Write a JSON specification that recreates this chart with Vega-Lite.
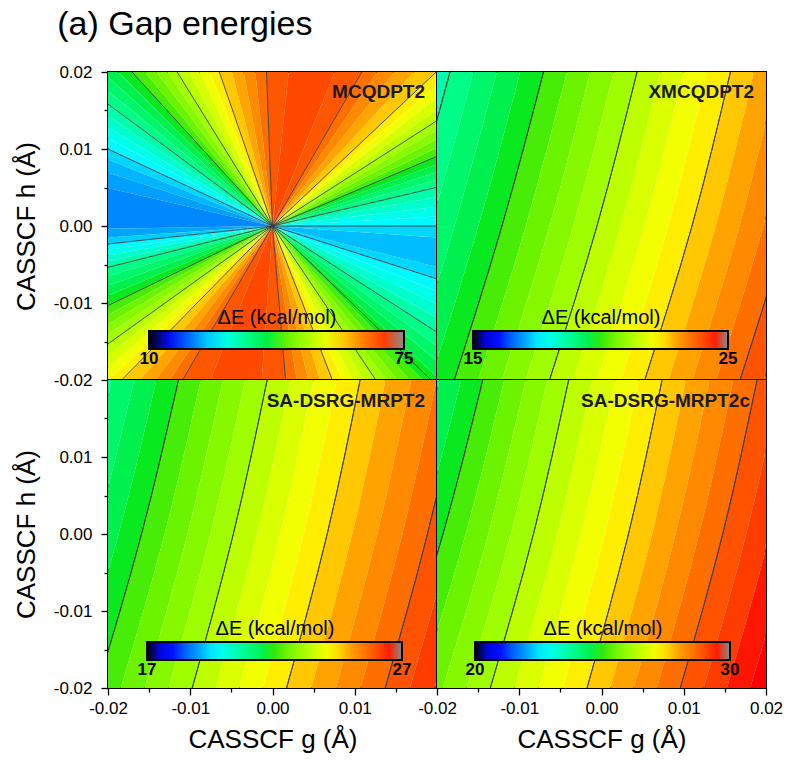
{
"$schema": "https://vega.github.io/schema/vega-lite/v6.json",
"padding": {"left": 12, "top": 8, "right": 5, "bottom": 5},
"title": {"text": "(a) Gap energies", "anchor": "start", "fontSize": 34, "fontWeight": "normal", "color": "black", "font": "Liberation Sans", "dx": 45, "offset": 20},
"datasets": {
"w1": [
{"a0":0,"a1":3.325,"e":27.27},{"a0":3.325,"a1":6.65,"e":29.3},{"a0":6.65,"a1":9.975,"e":31.33},{"a0":9.975,"a1":13.3,"e":33.36},
{"a0":13.3,"a1":15.725,"e":35.39},{"a0":15.725,"a1":18.15,"e":37.42},{"a0":18.15,"a1":20.575,"e":39.45},{"a0":20.575,"a1":23,"e":41.48},
{"a0":23,"a1":25.425,"e":43.52},{"a0":25.425,"a1":27.85,"e":45.55},{"a0":27.85,"a1":30.275,"e":47.58},{"a0":30.275,"a1":32.7,"e":49.61},
{"a0":32.7,"a1":35.35,"e":51.64},{"a0":35.35,"a1":38,"e":53.67},{"a0":38,"a1":40.65,"e":55.7},{"a0":40.65,"a1":43.3,"e":57.73},
{"a0":43.3,"a1":47.475,"e":59.77},{"a0":47.475,"a1":51.65,"e":61.8},{"a0":51.65,"a1":55.825,"e":63.83},{"a0":55.825,"a1":60,"e":65.86},
{"a0":60,"a1":68,"e":67.6},{"a0":68,"a1":84,"e":68.9},{"a0":84,"a1":92.2,"e":67.6},
{"a0":92.2,"a1":96.4,"e":65.86},{"a0":96.4,"a1":100.6,"e":63.83},{"a0":100.6,"a1":104.8,"e":61.8},{"a0":104.8,"a1":109,"e":59.77},
{"a0":109,"a1":112.175,"e":57.73},{"a0":112.175,"a1":115.35,"e":55.7},{"a0":115.35,"a1":118.525,"e":53.67},{"a0":118.525,"a1":121.7,"e":51.64},
{"a0":121.7,"a1":124.35,"e":49.61},{"a0":124.35,"a1":127,"e":47.58},{"a0":127,"a1":129.65,"e":45.55},{"a0":129.65,"a1":132.3,"e":43.52},
{"a0":132.3,"a1":135.075,"e":41.48},{"a0":135.075,"a1":137.85,"e":39.45},{"a0":137.85,"a1":140.625,"e":37.42},{"a0":140.625,"a1":143.4,"e":35.39},
{"a0":143.4,"a1":146.25,"e":33.36},{"a0":146.25,"a1":149.1,"e":31.33},{"a0":149.1,"a1":151.95,"e":29.3},{"a0":151.95,"a1":154.8,"e":27.27},
{"a0":154.8,"a1":158,"e":25.5},{"a0":158,"a1":162,"e":24},{"a0":162,"a1":167,"e":23},{"a0":167,"a1":181,"e":22},{"a0":181,"a1":184,"e":23.2},{"a0":184,"a1":186.3,"e":25},
{"a0":186.3,"a1":188.225,"e":27.27},{"a0":188.225,"a1":190.15,"e":29.3},{"a0":190.15,"a1":192.075,"e":31.33},{"a0":192.075,"a1":194,"e":33.36},
{"a0":194,"a1":197,"e":35.39},{"a0":197,"a1":200,"e":37.42},{"a0":200,"a1":203,"e":39.45},{"a0":203,"a1":206,"e":41.48},
{"a0":206,"a1":208.425,"e":43.52},{"a0":208.425,"a1":210.85,"e":45.55},{"a0":210.85,"a1":213.275,"e":47.58},{"a0":213.275,"a1":215.7,"e":49.61},
{"a0":215.7,"a1":218.225,"e":51.64},{"a0":218.225,"a1":220.75,"e":53.67},{"a0":220.75,"a1":223.275,"e":55.7},{"a0":223.275,"a1":225.8,"e":57.73},
{"a0":225.8,"a1":229.275,"e":59.77},{"a0":229.275,"a1":232.75,"e":61.8},{"a0":232.75,"a1":236.225,"e":63.83},{"a0":236.225,"a1":239.7,"e":65.86},
{"a0":239.7,"a1":248,"e":67.6},{"a0":248,"a1":266,"e":68.9},{"a0":266,"a1":274.8,"e":67.6},
{"a0":274.8,"a1":278.925,"e":65.86},{"a0":278.925,"a1":283.05,"e":63.83},{"a0":283.05,"a1":287.175,"e":61.8},{"a0":287.175,"a1":291.3,"e":59.77},
{"a0":291.3,"a1":294.425,"e":57.73},{"a0":294.425,"a1":297.55,"e":55.7},{"a0":297.55,"a1":300.675,"e":53.67},{"a0":300.675,"a1":303.8,"e":51.64},
{"a0":303.8,"a1":306.425,"e":49.61},{"a0":306.425,"a1":309.05,"e":47.58},{"a0":309.05,"a1":311.675,"e":45.55},{"a0":311.675,"a1":314.3,"e":43.52},
{"a0":314.3,"a1":317.5,"e":41.48},{"a0":317.5,"a1":320.7,"e":39.45},{"a0":320.7,"a1":323.9,"e":37.42},{"a0":323.9,"a1":327.1,"e":35.39},
{"a0":327.1,"a1":330.85,"e":33.36},{"a0":330.85,"a1":334.6,"e":31.33},{"a0":334.6,"a1":338.35,"e":29.3},{"a0":338.35,"a1":342.1,"e":27.27},
{"a0":342.1,"a1":346,"e":25.5},{"a0":346,"a1":356,"e":24.3},{"a0":356,"a1":360,"e":25.5}
],
"r1": [
{"g":-0.01707,"h":0.02},{"g":-0.01159,"h":0.02},{"g":-0.00646,"h":0.02},{"g":-0.00073,"h":0.02},{"g":0.01085,"h":0.02},{"g":0.0199,"h":0.02},
{"g":0.02,"h":0.01368},{"g":0.02,"h":0.00905},{"g":0.02,"h":0.00503},{"g":0.02,"h":0},{"g":0.02,"h":-0.00688},{"g":0.02,"h":-0.0138},
{"g":-0.01833,"h":-0.02},{"g":-0.01094,"h":-0.02},{"g":0.00159,"h":-0.02},{"g":0.00728,"h":-0.02},{"g":0.01256,"h":-0.02},{"g":0.01927,"h":-0.02},
{"g":-0.02,"h":0.01584},{"g":-0.02,"h":0.01},{"g":-0.02,"h":-0.00234},{"g":-0.02,"h":-0.00536},{"g":-0.02,"h":-0.01035},{"g":-0.02,"h":-0.01532}
],
"b2": [
{"k":0,"h":0.02,"g":-0.0241,"g2":-0.02126,"e":18.28},{"k":0,"h":0,"g":-0.02942,"g2":-0.02653,"e":18.28},{"k":0,"h":-0.02,"g":-0.03527,"g2":-0.03238,"e":18.28},
{"k":1,"h":0.02,"g":-0.02126,"g2":-0.01842,"e":18.59},{"k":1,"h":0,"g":-0.02653,"g2":-0.02365,"e":18.59},{"k":1,"h":-0.02,"g":-0.03238,"g2":-0.02948,"e":18.59},
{"k":2,"c":1,"h":0.02,"g":-0.01842,"g2":-0.01558,"e":18.91},{"k":2,"c":1,"h":0,"g":-0.02365,"g2":-0.02076,"e":18.91},{"k":2,"c":1,"h":-0.02,"g":-0.02948,"g2":-0.02659,"e":18.91},
{"k":3,"h":0.02,"g":-0.01558,"g2":-0.01273,"e":19.22},{"k":3,"h":0,"g":-0.02076,"g2":-0.01787,"e":19.22},{"k":3,"h":-0.02,"g":-0.02659,"g2":-0.02369,"e":19.22},
{"k":4,"h":0.02,"g":-0.01273,"g2":-0.00989,"e":19.53},{"k":4,"h":0,"g":-0.01787,"g2":-0.01498,"e":19.53},{"k":4,"h":-0.02,"g":-0.02369,"g2":-0.0208,"e":19.53},
{"k":5,"h":0.02,"g":-0.00989,"g2":-0.00705,"e":19.84},{"k":5,"h":0,"g":-0.01498,"g2":-0.0121,"e":19.84},{"k":5,"h":-0.02,"g":-0.0208,"g2":-0.0179,"e":19.84},
{"k":6,"c":1,"h":0.02,"g":-0.00705,"g2":-0.00421,"e":20.16},{"k":6,"c":1,"h":0,"g":-0.0121,"g2":-0.00921,"e":20.16},{"k":6,"c":1,"h":-0.02,"g":-0.0179,"g2":-0.01501,"e":20.16},
{"k":7,"h":0.02,"g":-0.00421,"g2":-0.00137,"e":20.47},{"k":7,"h":0,"g":-0.00921,"g2":-0.00632,"e":20.47},{"k":7,"h":-0.02,"g":-0.01501,"g2":-0.01211,"e":20.47},
{"k":8,"h":0.02,"g":-0.00137,"g2":0.00148,"e":20.78},{"k":8,"h":0,"g":-0.00632,"g2":-0.00343,"e":20.78},{"k":8,"h":-0.02,"g":-0.01211,"g2":-0.00922,"e":20.78},
{"k":9,"h":0.02,"g":0.00148,"g2":0.00432,"e":21.09},{"k":9,"h":0,"g":-0.00343,"g2":-0.00055,"e":21.09},{"k":9,"h":-0.02,"g":-0.00922,"g2":-0.00632,"e":21.09},
{"k":10,"c":1,"h":0.02,"g":0.00432,"g2":0.00716,"e":21.41},{"k":10,"c":1,"h":0,"g":-0.00055,"g2":0.00234,"e":21.41},{"k":10,"c":1,"h":-0.02,"g":-0.00632,"g2":-0.00343,"e":21.41},
{"k":11,"h":0.02,"g":0.00716,"g2":0.01,"e":21.72},{"k":11,"h":0,"g":0.00234,"g2":0.00523,"e":21.72},{"k":11,"h":-0.02,"g":-0.00343,"g2":-0.00053,"e":21.72},
{"k":12,"h":0.02,"g":0.01,"g2":0.01284,"e":22.03},{"k":12,"h":0,"g":0.00523,"g2":0.00812,"e":22.03},{"k":12,"h":-0.02,"g":-0.00053,"g2":0.00236,"e":22.03},
{"k":13,"h":0.02,"g":0.01284,"g2":0.01568,"e":22.34},{"k":13,"h":0,"g":0.00812,"g2":0.011,"e":22.34},{"k":13,"h":-0.02,"g":0.00236,"g2":0.00526,"e":22.34},
{"k":14,"c":1,"h":0.02,"g":0.01568,"g2":0.01853,"e":22.66},{"k":14,"c":1,"h":0,"g":0.011,"g2":0.01389,"e":22.66},{"k":14,"c":1,"h":-0.02,"g":0.00526,"g2":0.00815,"e":22.66},
{"k":15,"h":0.02,"g":0.01853,"g2":0.02137,"e":22.97},{"k":15,"h":0,"g":0.01389,"g2":0.01678,"e":22.97},{"k":15,"h":-0.02,"g":0.00815,"g2":0.01105,"e":22.97},
{"k":16,"h":0.02,"g":0.02137,"g2":0.02421,"e":23.28},{"k":16,"h":0,"g":0.01678,"g2":0.01967,"e":23.28},{"k":16,"h":-0.02,"g":0.01105,"g2":0.01394,"e":23.28},
{"k":17,"h":0.02,"g":0.02421,"g2":0.02705,"e":23.59},{"k":17,"h":0,"g":0.01967,"g2":0.02255,"e":23.59},{"k":17,"h":-0.02,"g":0.01394,"g2":0.01684,"e":23.59},
{"k":18,"c":1,"h":0.02,"g":0.02705,"g2":0.02989,"e":23.91},{"k":18,"c":1,"h":0,"g":0.02255,"g2":0.02544,"e":23.91},{"k":18,"c":1,"h":-0.02,"g":0.01684,"g2":0.01973,"e":23.91},
{"k":19,"h":0.02,"g":0.02989,"g2":0.03274,"e":24.22},{"k":19,"h":0,"g":0.02544,"g2":0.02833,"e":24.22},{"k":19,"h":-0.02,"g":0.01973,"g2":0.02263,"e":24.22}
],
"b3": [
{"k":0,"h":0.02,"g":-0.02221,"g2":-0.01951,"e":20.91},{"k":0,"h":0,"g":-0.02707,"g2":-0.02428,"e":20.91},{"k":0,"h":-0.02,"g":-0.03293,"g2":-0.03003,"e":20.91},
{"k":1,"h":0.02,"g":-0.01951,"g2":-0.01682,"e":21.22},{"k":1,"h":0,"g":-0.02428,"g2":-0.02149,"e":21.22},{"k":1,"h":-0.02,"g":-0.03003,"g2":-0.02713,"e":21.22},
{"k":2,"h":0.02,"g":-0.01682,"g2":-0.01412,"e":21.53},{"k":2,"h":0,"g":-0.02149,"g2":-0.01871,"e":21.53},{"k":2,"h":-0.02,"g":-0.02713,"g2":-0.02424,"e":21.53},
{"k":3,"h":0.02,"g":-0.01412,"g2":-0.01143,"e":21.84},{"k":3,"h":0,"g":-0.01871,"g2":-0.01592,"e":21.84},{"k":3,"h":-0.02,"g":-0.02424,"g2":-0.02134,"e":21.84},
{"k":4,"c":1,"h":0.02,"g":-0.01143,"g2":-0.00873,"e":22.16},{"k":4,"c":1,"h":0,"g":-0.01592,"g2":-0.01312,"e":22.16},{"k":4,"c":1,"h":-0.02,"g":-0.02134,"g2":-0.01845,"e":22.16},
{"k":5,"h":0.02,"g":-0.00873,"g2":-0.00604,"e":22.47},{"k":5,"h":0,"g":-0.01312,"g2":-0.01034,"e":22.47},{"k":5,"h":-0.02,"g":-0.01845,"g2":-0.01555,"e":22.47},
{"k":6,"h":0.02,"g":-0.00604,"g2":-0.00334,"e":22.78},{"k":6,"h":0,"g":-0.01034,"g2":-0.00755,"e":22.78},{"k":6,"h":-0.02,"g":-0.01555,"g2":-0.01265,"e":22.78},
{"k":7,"h":0.02,"g":-0.00334,"g2":-0.00065,"e":23.09},{"k":7,"h":0,"g":-0.00755,"g2":-0.00476,"e":23.09},{"k":7,"h":-0.02,"g":-0.01265,"g2":-0.00976,"e":23.09},
{"k":8,"c":1,"h":0.02,"g":-0.00065,"g2":0.00218,"e":23.41},{"k":8,"c":1,"h":0,"g":-0.00476,"g2":-0.0019,"e":23.41},{"k":8,"c":1,"h":-0.02,"g":-0.00976,"g2":-0.00689,"e":23.41},
{"k":9,"h":0.02,"g":0.00218,"g2":0.005,"e":23.72},{"k":9,"h":0,"g":-0.0019,"g2":0.00095,"e":23.72},{"k":9,"h":-0.02,"g":-0.00689,"g2":-0.00402,"e":23.72},
{"k":10,"h":0.02,"g":0.005,"g2":0.00782,"e":24.03},{"k":10,"h":0,"g":0.00095,"g2":0.00379,"e":24.03},{"k":10,"h":-0.02,"g":-0.00402,"g2":-0.00116,"e":24.03},
{"k":11,"h":0.02,"g":0.00782,"g2":0.01065,"e":24.34},{"k":11,"h":0,"g":0.00379,"g2":0.00665,"e":24.34},{"k":11,"h":-0.02,"g":-0.00116,"g2":0.00171,"e":24.34},
{"k":12,"c":1,"h":0.02,"g":0.01065,"g2":0.01374,"e":24.66},{"k":12,"c":1,"h":0,"g":0.00665,"g2":0.0097,"e":24.66},{"k":12,"c":1,"h":-0.02,"g":0.00171,"g2":0.00471,"e":24.66},
{"k":13,"h":0.02,"g":0.01374,"g2":0.01685,"e":24.97},{"k":13,"h":0,"g":0.0097,"g2":0.01274,"e":24.97},{"k":13,"h":-0.02,"g":0.00471,"g2":0.0077,"e":24.97},
{"k":14,"h":0.02,"g":0.01685,"g2":0.01995,"e":25.28},{"k":14,"h":0,"g":0.01274,"g2":0.01579,"e":25.28},{"k":14,"h":-0.02,"g":0.0077,"g2":0.0107,"e":25.28},
{"k":15,"h":0.02,"g":0.01995,"g2":0.02305,"e":25.59},{"k":15,"h":0,"g":0.01579,"g2":0.01884,"e":25.59},{"k":15,"h":-0.02,"g":0.0107,"g2":0.0137,"e":25.59},
{"k":16,"c":1,"h":0.02,"g":0.02305,"g2":0.02615,"e":25.91},{"k":16,"c":1,"h":0,"g":0.01884,"g2":0.02189,"e":25.91},{"k":16,"c":1,"h":-0.02,"g":0.0137,"g2":0.0167,"e":25.91},
{"k":17,"h":0.02,"g":0.02615,"g2":0.02926,"e":26.22},{"k":17,"h":0,"g":0.02189,"g2":0.02494,"e":26.22},{"k":17,"h":-0.02,"g":0.0167,"g2":0.0197,"e":26.22},
{"k":18,"h":0.02,"g":0.02926,"g2":0.03235,"e":26.53},{"k":18,"h":0,"g":0.02494,"g2":0.02799,"e":26.53},{"k":18,"h":-0.02,"g":0.0197,"g2":0.02268,"e":26.53},
{"k":19,"h":0.02,"g":0.03235,"g2":0.03545,"e":26.6},{"k":19,"h":0,"g":0.02799,"g2":0.03104,"e":26.6},{"k":19,"h":-0.02,"g":0.02268,"g2":0.02568,"e":26.6}
],
"b4": [
{"k":0,"h":0.02,"g":-0.0249,"g2":-0.02229,"e":23.91},{"k":0,"h":0,"g":-0.03027,"g2":-0.02753,"e":23.91},{"k":0,"h":-0.02,"g":-0.03662,"g2":-0.03373,"e":23.91},
{"k":1,"h":0.02,"g":-0.02229,"g2":-0.01967,"e":24.22},{"k":1,"h":0,"g":-0.02753,"g2":-0.02477,"e":24.22},{"k":1,"h":-0.02,"g":-0.03373,"g2":-0.03085,"e":24.22},
{"k":2,"h":0.02,"g":-0.01967,"g2":-0.01706,"e":24.53},{"k":2,"h":0,"g":-0.02477,"g2":-0.02202,"e":24.53},{"k":2,"h":-0.02,"g":-0.03085,"g2":-0.02796,"e":24.53},
{"k":3,"h":0.02,"g":-0.01706,"g2":-0.01444,"e":24.84},{"k":3,"h":0,"g":-0.02202,"g2":-0.01927,"e":24.84},{"k":3,"h":-0.02,"g":-0.02796,"g2":-0.02507,"e":24.84},
{"k":4,"c":1,"h":0.02,"g":-0.01444,"g2":-0.01183,"e":25.16},{"k":4,"c":1,"h":0,"g":-0.01927,"g2":-0.01652,"e":25.16},{"k":4,"c":1,"h":-0.02,"g":-0.02507,"g2":-0.02218,"e":25.16},
{"k":5,"h":0.02,"g":-0.01183,"g2":-0.00922,"e":25.47},{"k":5,"h":0,"g":-0.01652,"g2":-0.01377,"e":25.47},{"k":5,"h":-0.02,"g":-0.02218,"g2":-0.0193,"e":25.47},
{"k":6,"h":0.02,"g":-0.00922,"g2":-0.0066,"e":25.78},{"k":6,"h":0,"g":-0.01377,"g2":-0.01102,"e":25.78},{"k":6,"h":-0.02,"g":-0.0193,"g2":-0.01641,"e":25.78},
{"k":7,"h":0.02,"g":-0.0066,"g2":-0.00399,"e":26.09},{"k":7,"h":0,"g":-0.01102,"g2":-0.00827,"e":26.09},{"k":7,"h":-0.02,"g":-0.01641,"g2":-0.01352,"e":26.09},
{"k":8,"c":1,"h":0.02,"g":-0.00399,"g2":-0.00116,"e":26.41},{"k":8,"c":1,"h":0,"g":-0.00827,"g2":-0.00538,"e":26.41},{"k":8,"c":1,"h":-0.02,"g":-0.01352,"g2":-0.01058,"e":26.41},
{"k":9,"h":0.02,"g":-0.00116,"g2":0.00168,"e":26.72},{"k":9,"h":0,"g":-0.00538,"g2":-0.00249,"e":26.72},{"k":9,"h":-0.02,"g":-0.01058,"g2":-0.00764,"e":26.72},
{"k":10,"h":0.02,"g":0.00168,"g2":0.00452,"e":27.03},{"k":10,"h":0,"g":-0.00249,"g2":0.0004,"e":27.03},{"k":10,"h":-0.02,"g":-0.00764,"g2":-0.00471,"e":27.03},
{"k":11,"h":0.02,"g":0.00452,"g2":0.00736,"e":27.34},{"k":11,"h":0,"g":0.0004,"g2":0.00328,"e":27.34},{"k":11,"h":-0.02,"g":-0.00471,"g2":-0.00176,"e":27.34},
{"k":12,"c":1,"h":0.02,"g":0.00736,"g2":0.01024,"e":27.66},{"k":12,"c":1,"h":0,"g":0.00328,"g2":0.00615,"e":27.66},{"k":12,"c":1,"h":-0.02,"g":-0.00176,"g2":0.00107,"e":27.66},
{"k":13,"h":0.02,"g":0.01024,"g2":0.01313,"e":27.97},{"k":13,"h":0,"g":0.00615,"g2":0.00901,"e":27.97},{"k":13,"h":-0.02,"g":0.00107,"g2":0.00391,"e":27.97},
{"k":14,"h":0.02,"g":0.01313,"g2":0.01602,"e":28.28},{"k":14,"h":0,"g":0.00901,"g2":0.01187,"e":28.28},{"k":14,"h":-0.02,"g":0.00391,"g2":0.00674,"e":28.28},
{"k":15,"h":0.02,"g":0.01602,"g2":0.01891,"e":28.59},{"k":15,"h":0,"g":0.01187,"g2":0.01474,"e":28.59},{"k":15,"h":-0.02,"g":0.00674,"g2":0.00958,"e":28.59},
{"k":16,"c":1,"h":0.02,"g":0.01891,"g2":0.02179,"e":28.91},{"k":16,"c":1,"h":0,"g":0.01474,"g2":0.0176,"e":28.91},{"k":16,"c":1,"h":-0.02,"g":0.00958,"g2":0.01241,"e":28.91},
{"k":17,"h":0.02,"g":0.02179,"g2":0.02468,"e":29.22},{"k":17,"h":0,"g":0.0176,"g2":0.02046,"e":29.22},{"k":17,"h":-0.02,"g":0.01241,"g2":0.01525,"e":29.22},
{"k":18,"h":0.02,"g":0.02468,"g2":0.02757,"e":29.53},{"k":18,"h":0,"g":0.02046,"g2":0.02333,"e":29.53},{"k":18,"h":-0.02,"g":0.01525,"g2":0.01809,"e":29.53},
{"k":19,"h":0.02,"g":0.02757,"g2":0.03046,"e":29.6},{"k":19,"h":0,"g":0.02333,"g2":0.02619,"e":29.6},{"k":19,"h":-0.02,"g":0.01809,"g2":0.02092,"e":29.6}
]
},
"concat": [
{"width": 329, "height": 308,
 "layer": [
  {"data": {"name": "w1"},
   "mark": {"type": "arc", "radius": 240, "clip": true},
   "encoding": {
    "theta": {"field": "a0", "type": "quantitative", "stack": null, "scale": {"domain": [0, 360], "range": [1.5708, -4.7124]}},
    "theta2": {"field": "a1"},
    "fill": {"field": "e", "type": "quantitative", "scale": {"domain": [10, 11.17, 11.43, 16.5, 21.7, 27.55, 34.7, 41.85, 49.65, 56.8, 62, 67.2, 72.4, 73.18, 73.44, 75], "range": ["#000000","#000000","#0000c8","#0010ff","#0080ff","#00ffff","#00ff90","#10e810","#a0ff00","#ffff00","#ffa000","#ff5a00","#ff0000","#ff0000","#8c8c8c","#8c8c8c"]},
      "legend": {"type": "gradient", "orient": "none", "legendX": 41, "legendY": 236, "direction": "horizontal", "title": "ΔE (kcal/mol)", "values": [10, 75], "encode": {"labels": {"update": {"align": {"value": "center"}}}}}}
   }},
  {"data": {"name": "r1"},
   "mark": {"type": "rule", "stroke": "#3c3c3c", "strokeWidth": 0.9, "clip": true},
   "encoding": {
    "x": {"field": "g", "type": "quantitative", "scale": {"domain": [-0.02, 0.02], "nice": false, "zero": false}, "axis": null},
    "y": {"field": "h", "type": "quantitative", "scale": {"domain": [-0.02, 0.02], "nice": false, "zero": false},
      "axis": {"orient": "left", "values": [-0.02, -0.01, 0, 0.01, 0.02], "labelExpr": "datum.value < 0 ? '-' + format(-datum.value, '.2f') : format(datum.value, '.2f')", "tickSize": 7, "labelPadding": 9, "labelFlush": false, "title": "CASSCF h (Å)", "titlePadding": 14}},
    "x2": {"datum": 0}, "y2": {"datum": 0}
   }},
  {"data": {"values": [{"lab": "MCQDPT2"}]},
   "mark": {"type": "text", "align": "right", "baseline": "alphabetic", "dx": -12, "dy": 26, "fontSize": 19, "fontWeight": "bold", "color": "#1a1a1a"},
   "encoding": {
    "x": {"datum": 0.02, "type": "quantitative", "axis": null},
    "y": {"datum": 0.02, "type": "quantitative", "axis": {"orient": "left", "values": [-0.015, -0.005, 0.005, 0.015], "labels": false, "tickSize": 4, "title": null}},
    "text": {"field": "lab"}
   }}
 ],
 "resolve": {"axis": {"y": "independent"}}
},
{"width": 329, "height": 308,
 "layer": [
  {"data": {"name": "b2"},
   "mark": {"type": "area", "orient": "horizontal", "interpolate": "monotone", "clip": true},
   "encoding": {
    "y": {"field": "h", "type": "quantitative", "scale": {"domain": [-0.02, 0.02], "nice": false, "zero": false}, "axis": null},
    "x": {"field": "g", "type": "quantitative", "scale": {"domain": [-0.02, 0.02], "nice": false, "zero": false}, "axis": null},
    "x2": {"field": "g2"},
    "detail": {"field": "k", "type": "nominal"},
    "fill": {"field": "e", "type": "quantitative", "scale": {"domain": [15, 15.18, 15.22, 16, 16.8, 17.7, 18.8, 19.9, 21.1, 22.2, 23, 23.8, 24.6, 24.72, 24.76, 25], "range": ["#000000","#000000","#0000c8","#0010ff","#0080ff","#00ffff","#00ff90","#10e810","#a0ff00","#ffff00","#ffa000","#ff5a00","#ff0000","#ff0000","#8c8c8c","#8c8c8c"]},
      "legend": {"type": "gradient", "orient": "none", "legendX": 36, "legendY": 236, "direction": "horizontal", "title": "ΔE (kcal/mol)", "values": [15, 25], "encode": {"labels": {"update": {"align": {"value": "center"}}}}}}
   }},
  {"data": {"name": "b2"},
   "transform": [{"filter": "datum.c == 1"}],
   "mark": {"type": "area", "orient": "horizontal", "interpolate": "monotone", "clip": true, "fill": "transparent", "stroke": "#3c3c3c", "strokeWidth": 0.9},
   "encoding": {
    "y": {"field": "h", "type": "quantitative", "axis": null},
    "x": {"field": "g", "type": "quantitative", "axis": null},
    "x2": {"field": "g"},
    "detail": {"field": "k", "type": "nominal"}
   }},
  {"data": {"values": [{"lab": "XMCQDPT2"}]},
   "mark": {"type": "text", "align": "right", "baseline": "alphabetic", "dx": -12, "dy": 26, "fontSize": 19, "fontWeight": "bold", "color": "#1a1a1a"},
   "encoding": {
    "x": {"datum": 0.02, "type": "quantitative", "axis": null},
    "y": {"datum": 0.02, "type": "quantitative", "axis": null},
    "text": {"field": "lab"}
   }}
 ]
},
{"width": 329, "height": 308,
 "layer": [
  {"data": {"name": "b3"},
   "mark": {"type": "area", "orient": "horizontal", "interpolate": "monotone", "clip": true},
   "encoding": {
    "y": {"field": "h", "type": "quantitative", "scale": {"domain": [-0.02, 0.02], "nice": false, "zero": false},
      "axis": {"orient": "left", "values": [-0.02, -0.01, 0, 0.01], "labelExpr": "datum.value < 0 ? '-' + format(-datum.value, '.2f') : format(datum.value, '.2f')", "tickSize": 7, "labelPadding": 9, "labelFlush": false, "title": "CASSCF h (Å)", "titlePadding": 14}},
    "x": {"field": "g", "type": "quantitative", "scale": {"domain": [-0.02, 0.02], "nice": false, "zero": false},
      "axis": {"orient": "bottom", "values": [-0.02, -0.01, 0, 0.01], "labelExpr": "datum.value < 0 ? '-' + format(-datum.value, '.2f') : format(datum.value, '.2f')", "tickSize": 7, "labelPadding": 5, "labelFlush": false, "title": "CASSCF g (Å)", "titlePadding": 10}},
    "x2": {"field": "g2"},
    "detail": {"field": "k", "type": "nominal"},
    "fill": {"field": "e", "type": "quantitative", "scale": {"domain": [17, 17.18, 17.22, 18, 18.8, 19.7, 20.8, 21.9, 23.1, 24.2, 25, 25.8, 26.6, 26.72, 26.76, 27], "range": ["#000000","#000000","#0000c8","#0010ff","#0080ff","#00ffff","#00ff90","#10e810","#a0ff00","#ffff00","#ffa000","#ff5a00","#ff0000","#ff0000","#8c8c8c","#8c8c8c"]},
      "legend": {"type": "gradient", "orient": "none", "legendX": 39, "legendY": 239, "direction": "horizontal", "title": "ΔE (kcal/mol)", "values": [17, 27], "encode": {"labels": {"update": {"align": {"value": "center"}}}}}}
   }},
  {"data": {"name": "b3"},
   "transform": [{"filter": "datum.c == 1"}],
   "mark": {"type": "area", "orient": "horizontal", "interpolate": "monotone", "clip": true, "fill": "transparent", "stroke": "#3c3c3c", "strokeWidth": 0.9},
   "encoding": {
    "y": {"field": "h", "type": "quantitative", "axis": {"orient": "left", "values": [-0.015, -0.005, 0.005, 0.015], "labels": false, "tickSize": 4, "title": null}},
    "x": {"field": "g", "type": "quantitative", "axis": {"orient": "bottom", "values": [-0.015, -0.005, 0.005, 0.015], "labels": false, "tickSize": 4, "title": null}},
    "x2": {"field": "g"},
    "detail": {"field": "k", "type": "nominal"}
   }},
  {"data": {"values": [{"lab": "SA-DSRG-MRPT2"}]},
   "mark": {"type": "text", "align": "right", "baseline": "alphabetic", "dx": -12, "dy": 27, "fontSize": 19, "fontWeight": "bold", "color": "#1a1a1a"},
   "encoding": {
    "x": {"datum": 0.02, "type": "quantitative", "axis": null},
    "y": {"datum": 0.02, "type": "quantitative", "axis": null},
    "text": {"field": "lab"}
   }}
 ],
 "resolve": {"axis": {"x": "independent", "y": "independent"}}
},
{"width": 329, "height": 308,
 "layer": [
  {"data": {"name": "b4"},
   "mark": {"type": "area", "orient": "horizontal", "interpolate": "monotone", "clip": true},
   "encoding": {
    "y": {"field": "h", "type": "quantitative", "scale": {"domain": [-0.02, 0.02], "nice": false, "zero": false}, "axis": null},
    "x": {"field": "g", "type": "quantitative", "scale": {"domain": [-0.02, 0.02], "nice": false, "zero": false},
      "axis": {"orient": "bottom", "values": [-0.02, -0.01, 0, 0.01, 0.02], "labelExpr": "datum.value < 0 ? '-' + format(-datum.value, '.2f') : format(datum.value, '.2f')", "tickSize": 7, "labelPadding": 5, "labelFlush": false, "title": "CASSCF g (Å)", "titlePadding": 10}},
    "x2": {"field": "g2"},
    "detail": {"field": "k", "type": "nominal"},
    "fill": {"field": "e", "type": "quantitative", "scale": {"domain": [20, 20.18, 20.22, 21, 21.8, 22.7, 23.8, 24.9, 26.1, 27.2, 28, 28.8, 29.6, 29.72, 29.76, 30], "range": ["#000000","#000000","#0000c8","#0010ff","#0080ff","#00ffff","#00ff90","#10e810","#a0ff00","#ffff00","#ffa000","#ff5a00","#ff0000","#ff0000","#8c8c8c","#8c8c8c"]},
      "legend": {"type": "gradient", "orient": "none", "legendX": 38, "legendY": 239, "direction": "horizontal", "title": "ΔE (kcal/mol)", "values": [20, 30], "encode": {"labels": {"update": {"align": {"value": "center"}}}}}}
   }},
  {"data": {"name": "b4"},
   "transform": [{"filter": "datum.c == 1"}],
   "mark": {"type": "area", "orient": "horizontal", "interpolate": "monotone", "clip": true, "fill": "transparent", "stroke": "#3c3c3c", "strokeWidth": 0.9},
   "encoding": {
    "y": {"field": "h", "type": "quantitative", "axis": null},
    "x": {"field": "g", "type": "quantitative", "axis": {"orient": "bottom", "values": [-0.015, -0.005, 0.005, 0.015], "labels": false, "tickSize": 4, "title": null}},
    "x2": {"field": "g"},
    "detail": {"field": "k", "type": "nominal"}
   }},
  {"data": {"values": [{"lab": "SA-DSRG-MRPT2c"}]},
   "mark": {"type": "text", "align": "right", "baseline": "alphabetic", "dx": -16, "dy": 27, "fontSize": 19, "fontWeight": "bold", "color": "#1a1a1a"},
   "encoding": {
    "x": {"datum": 0.02, "type": "quantitative", "axis": null},
    "y": {"datum": 0.02, "type": "quantitative", "axis": null},
    "text": {"field": "lab"}
   }}
 ],
 "resolve": {"axis": {"x": "independent"}}
}
],
"columns": 2,
"spacing": 0,
"bounds": "flush",
"resolve": {"scale": {"fill": "independent"}, "legend": {"fill": "independent"}},
"config": {
 "font": "Liberation Sans",
 "view": {"stroke": "black", "strokeWidth": 2},
 "axis": {"domain": false, "grid": false, "tickColor": "black", "tickWidth": 1.3, "labelColor": "black", "labelFontSize": 17, "labelFont": "Liberation Sans", "titleFont": "Liberation Sans", "titleFontSize": 26, "titleFontWeight": "normal", "titleColor": "black"},
 "legend": {"gradientLength": 255, "gradientThickness": 18, "gradientStrokeColor": "black", "gradientStrokeWidth": 2, "titleFontSize": 20, "titleFontWeight": "normal", "titleColor": "black", "titleAnchor": "middle", "titlePadding": 3, "titleFont": "Liberation Sans", "labelFont": "Liberation Sans", "labelFontSize": 17, "labelFontWeight": "bold", "labelColor": "black", "labelOffset": 3, "padding": 0}
}
}
